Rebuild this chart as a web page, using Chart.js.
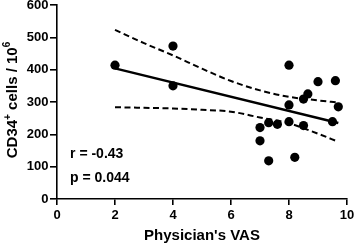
<!DOCTYPE html>
<html>
<head>
<meta charset="utf-8">
<script src="https://cdn.jsdelivr.net/npm/chart.js@4"></script>
<style>
  html, body { margin: 0; padding: 0; background: #fff; }
  #wrap { width: 355px; height: 245px; position: relative; }
</style>
</head>
<body>
<div id="wrap"><canvas id="myChart"></canvas></div>
<script>
// data block
const vasScores = [2.0, 4.0, 4.0, 7.0, 7.0, 7.3, 7.3, 7.6, 8.0, 8.0, 8.0, 8.2, 8.5, 8.5, 8.65, 9.0, 9.5, 9.6, 9.7];
const cd34Counts = [414, 473, 350, 221, 180, 236, 118, 231, 414, 291, 239, 129, 227, 309, 325, 363, 239, 366, 285];

const fitX = [2, 9.7];
const fitY = [404, 235];

const bandX = [2, 3, 4, 5, 6, 7, 8, 9, 9.7];
const upperBand = [523, 482, 444, 403, 365, 336, 316, 305, 298];
const lowerBand = [284, 282, 280, 276, 270, 252, 234, 202, 177];

const xTicks = [0, 2, 4, 6, 8, 10];
const yTicks = [0, 100, 200, 300, 400, 500, 600];

const statLines = ["r = -0.43", "p = 0.044"];

const FONT = "'Liberation Sans', Arial, Helvetica, sans-serif";

const toPoints = (xs, ys) => xs.map((x, i) => ({ x: x, y: ys[i] }));

// y title with real superscripts
const yTitlePlugin = {
    id: 'yTitle',
    afterDraw(chart) {
        const ctx = chart.ctx;
        const area = chart.chartArea;
        const parts = [
            { t: "CD34", size: 15, rise: 0 },
            { t: "+", size: 10, rise: 6 },
            { t: " cells / 10", size: 15, rise: 0 },
            { t: "6", size: 10, rise: 7 }
        ];
        ctx.save();
        let total = 0;
        parts.forEach(p => {
            ctx.font = "bold " + p.size + "px " + FONT;
            p.w = ctx.measureText(p.t).width;
            total += p.w;
        });
        ctx.translate(16.5, (area.top + area.bottom) / 2 - 2);
        ctx.rotate(-Math.PI / 2);
        ctx.fillStyle = '#000';
        ctx.textBaseline = 'alphabetic';
        let x = -total / 2;
        parts.forEach(p => {
            ctx.font = "bold " + p.size + "px " + FONT;
            ctx.fillText(p.t, x, -p.rise);
            x += p.w;
        });
        ctx.restore();
    }
};

// r and p text inside the plot
const statsPlugin = {
    id: 'stats',
    afterDraw(chart) {
        const ctx = chart.ctx;
        const xs = chart.scales.x, ys = chart.scales.y;
        ctx.save();
        ctx.font = "bold 14px " + FONT;
        ctx.fillStyle = '#000';
        ctx.textBaseline = 'alphabetic';
        ctx.fillText(statLines[0], xs.getPixelForValue(0.45), ys.getPixelForValue(128));
        ctx.fillText(statLines[1], xs.getPixelForValue(0.45), ys.getPixelForValue(52));
        ctx.restore();
    }
};

const data = {
    datasets: [
        {
            type: 'scatter',
            data: toPoints(vasScores, cd34Counts),
            backgroundColor: '#000',
            borderWidth: 0,
            pointRadius: 4.6
        },
        {
            type: 'line',
            data: toPoints(fitX, fitY),
            borderColor: '#000',
            borderWidth: 2.5,
            pointRadius: 0,
            fill: false
        },
        {
            type: 'line',
            data: toPoints(bandX, upperBand),
            borderColor: '#000',
            borderWidth: 2,
            borderDash: [6, 3.5],
            pointRadius: 0,
            cubicInterpolationMode: 'monotone',
            fill: false
        },
        {
            type: 'line',
            data: toPoints(bandX, lowerBand),
            borderColor: '#000',
            borderWidth: 2,
            borderDash: [6, 3.5],
            pointRadius: 0,
            cubicInterpolationMode: 'monotone',
            fill: false
        }
    ]
};

const config = {
    type: 'scatter',
    data: data,
    options: {
        responsive: true,
        maintainAspectRatio: false,
        animation: false,
        layout: { padding: { top: 5, right: 8, left: 0, bottom: 0 } },
        plugins: {
            legend: { display: false },
            tooltip: { enabled: false }
        },
        scales: {
            x: {
                type: 'linear',
                min: 0,
                max: 10,
                afterBuildTicks: s => { s.ticks = xTicks.map(v => ({ value: v })); },
                afterFit: s => { s.height = 46; s.paddingLeft = 0; s.paddingRight = 0; },
                border: { color: '#000', width: 1.6 },
                grid: { drawOnChartArea: false, drawTicks: true, tickLength: 6, color: '#000', lineWidth: 1.6 },
                ticks: { color: '#000', padding: 3, font: { family: FONT, size: 13, weight: 'bold' }, maxRotation: 0 },
                title: {
                    display: true,
                    text: "Physician's VAS",
                    color: '#000',
                    font: { family: FONT, size: 15, weight: 'bold' },
                    padding: { top: 2, bottom: 0 }
                }
            },
            y: {
                type: 'linear',
                min: 0,
                max: 600,
                afterBuildTicks: s => { s.ticks = yTicks.map(v => ({ value: v })); },
                afterFit: s => { s.width = 57; s.paddingTop = 0; s.paddingBottom = 0; },
                border: { color: '#000', width: 1.6 },
                grid: { drawOnChartArea: false, drawTicks: true, tickLength: 7, color: '#000', lineWidth: 1.6 },
                ticks: { color: '#000', padding: 1.5, font: { family: FONT, size: 13, weight: 'bold' } }
            }
        }
    },
    plugins: [yTitlePlugin, statsPlugin]
};

const myChart = new Chart(document.getElementById('myChart'), config);
</script>
</body>
</html>
